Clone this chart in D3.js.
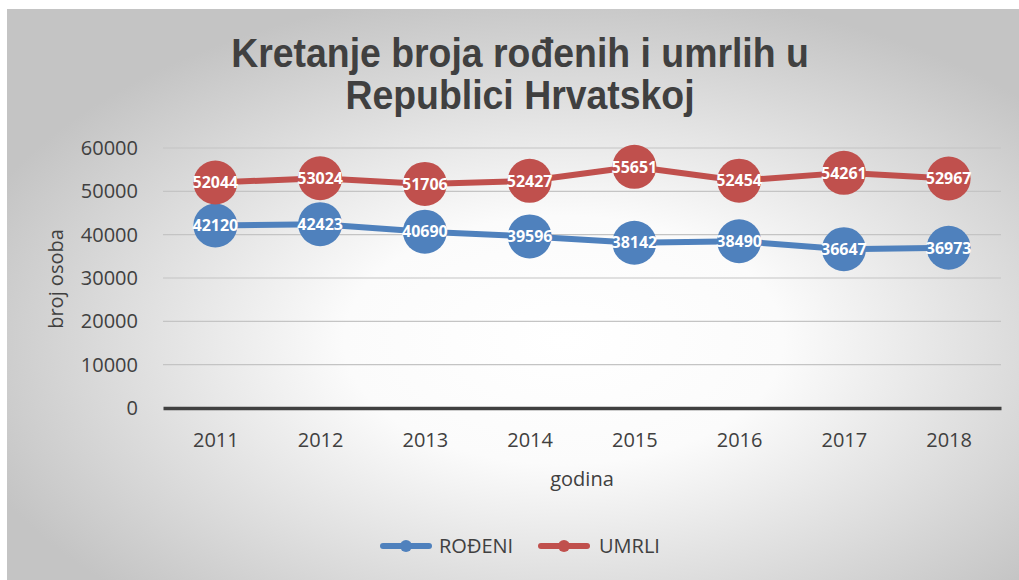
<!DOCTYPE html>
<html>
<head>
<meta charset="utf-8">
<script src="https://cdn.jsdelivr.net/npm/d3@7"></script>
<style>
  body { margin: 0; background: #fff; }
  text { font-family: "Open Sans", "DejaVu Sans", sans-serif; }
</style>
</head>
<body>
<div id="main"></div>
<script>
const main = "#main"

// data
const years = ["2011", "2012", "2013", "2014", "2015", "2016", "2017", "2018"]
const rodeni = [42120, 42423, 40690, 39596, 38142, 38490, 36647, 36973]
const umrli = [52044, 53024, 51706, 52427, 55651, 52454, 54261, 52967]
const yTicks = [0, 10000, 20000, 30000, 40000, 50000, 60000]
const seriesNames = ["ROĐENI", "UMRLI"]
const seriesColors = ["#4f81bd", "#c0504d"]

let W = 1019, H = 580
let margin = {top: 148, right: 18, bottom: 172, left: 163},
    width = W - margin.left - margin.right,
    height = H - margin.top - margin.bottom;

let svg = d3.select(main).append("svg")
    .attr("width", W)
    .attr("height", H)

// background gradient (white centre, grey edges)
let defs = svg.append("defs")
let grad = defs.append("radialGradient")
    .attr("id", "bg")
    .attr("cx", "0.55").attr("cy", "0.58").attr("r", "0.62")
grad.append("stop").attr("offset", "0").attr("stop-color", "#ffffff")
grad.append("stop").attr("offset", "0.35").attr("stop-color", "#fbfbfb")
grad.append("stop").attr("offset", "1").attr("stop-color", "#c4c4c4")

svg.append("rect")
    .attr("x", 7).attr("y", 9)
    .attr("width", W - 7).attr("height", H - 9)
    .attr("fill", "url(#bg)")

// title (squeezed a bit, the original font is narrower)
let title = svg.append("text")
    .attr("transform", "translate(520,0) scale(0.935,1)")
    .attr("text-anchor", "middle")
    .attr("fill", "#404040")
    .style("font-family", "'Liberation Sans', Arial, sans-serif")
    .style("font-weight", "bold")
    .style("font-size", "40px")
title.append("tspan").attr("x", 0).attr("y", 67).text("Kretanje broja rođenih i umrlih u")
title.append("tspan").attr("x", 0).attr("y", 109).text("Republici Hrvatskoj")

let g = svg.append("g")
    .attr("transform", "translate(" + margin.left + "," + margin.top + ")")

let x = d3.scalePoint()
    .domain(years)
    .range([0, width])
    .padding(0.5)

let y = d3.scaleLinear()
    .domain([0, 60000])
    .range([height, 0])

// gridlines
g.append("g")
    .selectAll("line")
    .data(yTicks.filter(d => d > 0))
    .enter()
    .append("line")
    .attr("x1", 0).attr("x2", width)
    .attr("y1", d => y(d)).attr("y2", d => y(d))
    .attr("stroke", "#c4c4c4")
    .attr("stroke-width", 1.2)

// y axis labels
let yAxis = g.append("g")
    .call(d3.axisLeft(y).tickValues(yTicks).tickFormat(d3.format("d")).tickSize(0).tickPadding(25))
yAxis.select(".domain").remove()
yAxis.selectAll("text")
    .attr("fill", "#404040")
    .style("font-size", "20px")
    .style("font-family", "'Open Sans', sans-serif")

// x axis
let xAxis = g.append("g")
    .attr("transform", "translate(0," + height + ")")
    .call(d3.axisBottom(x).tickSize(0).tickPadding(25))
xAxis.select(".domain")
    .attr("stroke", "#404040")
    .attr("stroke-width", 3.5)
xAxis.selectAll("text")
    .attr("fill", "#404040")
    .style("font-size", "20px")
    .style("font-family", "'Open Sans', sans-serif")

// axis titles
svg.append("text")
    .attr("transform", "translate(63,279) rotate(-90)")
    .attr("text-anchor", "middle")
    .attr("fill", "#404040")
    .style("font-size", "20px")
    .text("broj osoba")

svg.append("text")
    .attr("x", margin.left + width / 2)
    .attr("y", 486)
    .attr("text-anchor", "middle")
    .attr("fill", "#404040")
    .style("font-size", "20px")
    .text("godina")

// series
let series = [rodeni, umrli]
let line = d3.line()
    .x((d, i) => x(years[i]))
    .y(d => y(d))

series.forEach((values, s) => {
    let sg = g.append("g")
    sg.append("path")
        .datum(values)
        .attr("d", line)
        .attr("fill", "none")
        .attr("stroke", seriesColors[s])
        .attr("stroke-width", 6)
        .attr("stroke-linejoin", "round")

    sg.selectAll("circle")
        .data(values)
        .enter()
        .append("circle")
        .attr("cx", (d, i) => x(years[i]))
        .attr("cy", d => y(d))
        .attr("r", 22)
        .attr("fill", seriesColors[s])

    sg.selectAll("text.lbl")
        .data(values)
        .enter()
        .append("text")
        .attr("class", "lbl")
        .attr("x", (d, i) => x(years[i]))
        .attr("y", d => y(d))
        .attr("dy", "0.36em")
        .attr("text-anchor", "middle")
        .attr("fill", "#ffffff")
        .style("font-weight", "bold")
        .style("font-size", "16px")
        .text(d => d)
})

// legend
let legendItems = [
    {name: seriesNames[0], color: seriesColors[0], x: 383, tx: 439},
    {name: seriesNames[1], color: seriesColors[1], x: 541, tx: 599}
]
let legend = svg.append("g")
legendItems.forEach(d => {
    legend.append("line")
        .attr("x1", d.x).attr("x2", d.x + 46)
        .attr("y1", 546).attr("y2", 546)
        .attr("stroke", d.color)
        .attr("stroke-width", 6)
        .attr("stroke-linecap", "round")
    legend.append("circle")
        .attr("cx", d.x + 23).attr("cy", 546)
        .attr("r", 6)
        .attr("fill", d.color)
    legend.append("text")
        .attr("x", d.tx).attr("y", 546)
        .attr("dy", "0.36em")
        .attr("fill", "#404040")
        .style("font-size", "20px")
        .text(d.name)
})
</script>
</body>
</html>
